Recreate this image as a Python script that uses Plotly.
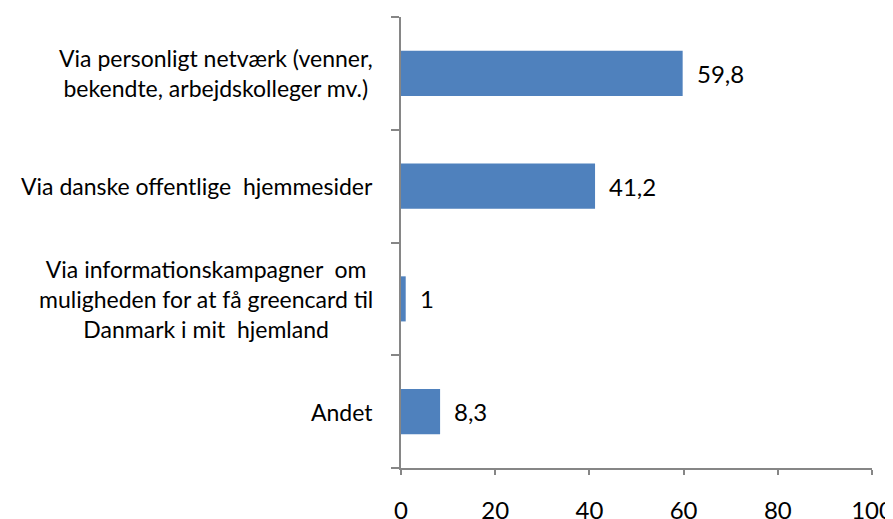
import plotly.graph_objects as go

categories = [
    "Via personligt netværk (venner,<br>bekendte, arbejdskolleger mv.)",
    "Via danske offentlige  hjemmesider",
    "Via informationskampagner  om<br>muligheden for at få greencard til<br>Danmark i mit  hjemland",
    "Andet",
]
values = [59.8, 41.2, 1, 8.3]
x_ticks = [0, 20, 40, 60, 80, 100]

FONT = "Lato"
FSIZE = 23
NSIZE = 24
AXIS_COLOR = "#868686"

labels = [f"{v:g}".replace(".", ",") for v in values]
ids = list(range(len(categories)))

fig = go.Figure(
    go.Bar(
        y=ids,
        x=values,
        orientation="h",
        marker=dict(color="#4F81BD", line=dict(width=0)),
        hoverinfo="x+y",
    )
)

for i, c in zip(ids, categories):
    fig.add_annotation(
        x=0, xref="paper", y=i, yref="y",
        text=c, showarrow=False, xanchor="right", yanchor="middle",
        align="center", xshift=-26,
        font=dict(family=FONT, size=FSIZE, color="#000000"),
    )

for i, v, t in zip(ids, values, labels):
    fig.add_annotation(
        x=v, xref="x", y=i, yref="y",
        text=t, showarrow=False, xanchor="left", yanchor="middle",
        xshift=12,
        font=dict(family=FONT, size=NSIZE, color="#000000"),
    )

fig.update_layout(
    width=885, height=511,
    margin=dict(l=393, r=21, t=9, b=51, autoexpand=False),
    paper_bgcolor="white", plot_bgcolor="white",
    bargap=0.6,
    showlegend=False,
    font=dict(family=FONT, size=FSIZE, color="#000000"),
)
fig.update_xaxes(
    range=[0, 100], tickvals=x_ticks, ticktext=[str(t) for t in x_ticks],
    showgrid=False, zeroline=False, showline=True, linecolor=AXIS_COLOR, linewidth=2,
    ticks="outside", ticklen=5, tickcolor=AXIS_COLOR, tickwidth=2,
    ticklabelstandoff=15, automargin=False,
    tickfont=dict(family=FONT, size=NSIZE, color="#000000"),
)
fig.update_yaxes(
    type="category", tickmode="array", tickvals=ids, showticklabels=False,
    range=[len(ids) - 0.5, -0.5], automargin=False,
    showgrid=False, zeroline=False, showline=True, linecolor=AXIS_COLOR, linewidth=2,
    tickson="boundaries", ticks="outside", ticklen=8, tickcolor=AXIS_COLOR, tickwidth=2,
)

fig.write_html("out.html")
